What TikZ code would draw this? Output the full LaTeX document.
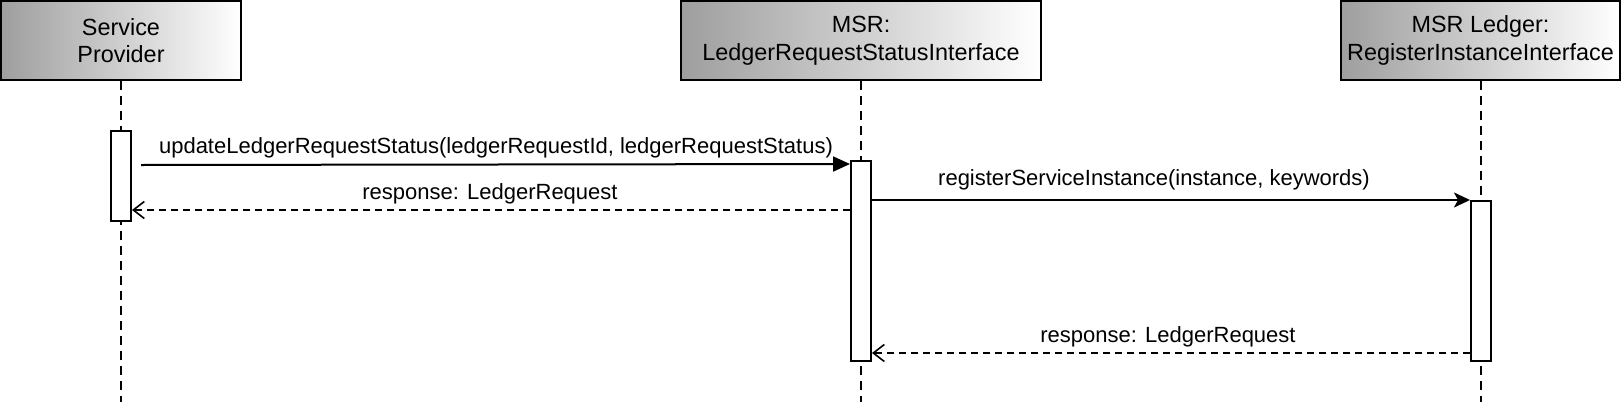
\documentclass[tikz,border=0pt]{standalone}
\usepackage{fontspec}
\setmainfont{Liberation Sans}
\usetikzlibrary{arrows.meta}
\begin{document}
\begin{tikzpicture}[x=1pt,y=-1pt,
  hdr/.style={draw=black,line width=2pt,left color=black!38,right color=white,
    inner sep=0pt,align=center,font=\fontsize{23.4}{27.6}\selectfont},
  lifeline/.style={line width=2pt,dash pattern=on 9pt off 6pt},
  actbox/.style={draw=black,fill=white,line width=2pt,minimum width=20pt,inner sep=0pt},
  msg/.style={line width=2pt},
  ret/.style={line width=1.6pt,dash pattern=on 7pt off 5pt},
  lbl/.style={font=\fontsize{22}{26}\selectfont,anchor=base,inner sep=0pt},
  blk/.tip={Triangle[length=17pt,width=15pt]},
  cls/.tip={Stealth[length=16pt,width=15pt,inset=4pt]},
  opn/.tip={Straight Barb[length=11pt,width=17pt,line width=1.6pt]}
]
\useasboundingbox (0,0) rectangle (1622,402);
% headers
\node[hdr,minimum width=240pt,minimum height=79pt] (sp) at (121,40.5) {Service\\Provider};
\node[hdr,minimum width=360pt,minimum height=79pt] (msr) at (861,40.5) {MSR:\\LedgerRequestStatusInterface};
\node[hdr,minimum width=279pt,minimum height=79pt] (led) at (1480.5,40.5) {MSR Ledger:\\RegisterInstanceInterface};
% lifeline ends
\coordinate (spE) at (121,402);
\coordinate (msrE) at (861,402);
\coordinate (ledE) at (1481,402);
\draw[lifeline] (sp.south) -- (spE);
\draw[lifeline] (msr.south) -- (msrE);
\draw[lifeline] (led.south -| ledE) -- (ledE);
% activations
\node[actbox,minimum height=90pt] (a1) at (121,176) {};
\node[actbox,minimum height=200pt] (a2) at (861,261) {};
\node[actbox,minimum height=160pt] (a3) at (1481,281) {};
% messages
\coordinate (m1s) at (141,165);
\draw[msg,-{blk}] (m1s) -- (a2.west |- 0,164);
\node[lbl] at (496,153) {updateLedgerRequestStatus(ledgerRequestId, ledgerRequestStatus)};
\node[lbl] at (490,199) {response: LedgerRequest};
\draw[ret,-{opn}] (a2.west |- 0,210) -- (a1.east |- 0,210);
\draw[msg,-{cls}] (a2.east |- a3.north west) -- (a3.north west);
\node[lbl] at (1154,185) {registerServiceInstance(instance, keywords)};
\node[lbl] at (1168,342) {response: LedgerRequest};
\draw[ret,-{opn}] (a3.west |- 0,353) -- (a2.east |- 0,353);
\end{tikzpicture}
\end{document}
